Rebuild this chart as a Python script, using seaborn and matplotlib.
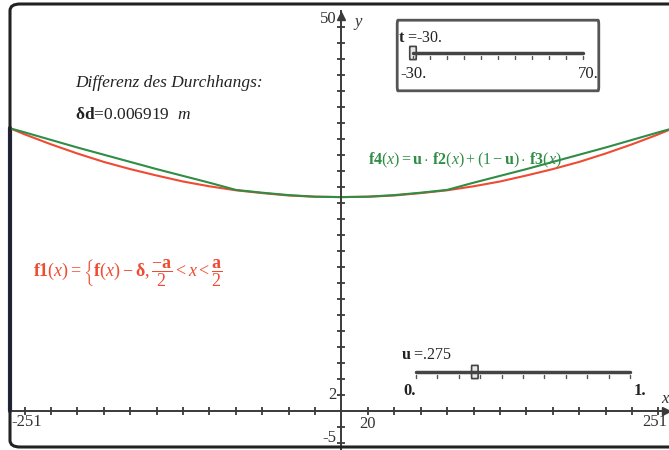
import numpy as np
import pandas as pd
import seaborn as sns
import matplotlib.pyplot as plt
from matplotlib.patches import FancyBboxPatch
from matplotlib.ticker import MultipleLocator

# Kurvenpunkte
x_pts = [-251, -240, -220, -200, -180, -160, -140, -120, -100, -80, -60, -40, -20, 0,
         20, 40, 60, 80, 100, 120, 140, 160, 180, 200, 220, 240, 251]
f1_vals = [35.3, 34.55, 33.3, 32.15, 31.1, 30.2, 29.4, 28.65, 28.05, 27.55, 27.2, 26.9, 26.75, 26.7,
           26.75, 26.9, 27.2, 27.55, 28.05, 28.65, 29.4, 30.2, 31.1, 32.15, 33.3, 34.55, 35.3]
f4_vals = [35.3, 34.8, 33.85, 32.9, 32.0, 31.1, 30.2, 29.35, 28.5, 27.6, 27.25, 26.95, 26.75, 26.7,
           26.75, 26.95, 27.25, 27.6, 28.5, 29.35, 30.2, 31.1, 32.0, 32.9, 33.85, 34.8, 35.3]
wall_x = [-251, -251]
wall_y = [0, 35.3]

x_range = [-251, 251]
y_range = [-5, 50]
x_step = 20
y_step = 2
x_labels = [-251, 20, 251]
y_labels = [50, 2, -5]

t_value, t_min, t_max = -30, -30, 70
u_value, u_min, u_max = 0.275, 0, 1

RED = '#ef4b33'
GREEN = '#2f8d45'
AXC = '#3a3a3a'

sns.set_style('white')
plt.rcParams['font.family'] = ['Liberation Serif', 'DejaVu Serif']
plt.rcParams['mathtext.fontset'] = 'custom'
plt.rcParams['mathtext.rm'] = 'Liberation Serif'
plt.rcParams['mathtext.it'] = 'Liberation Serif:italic'
plt.rcParams['mathtext.bf'] = 'Liberation Serif:bold'

W, H = 669, 450
fig = plt.figure(figsize=(W / 100, H / 100), dpi=100)
ax = fig.add_axes([10 / W, -0.7 / H, 663 / W, 440 / H])
ax.set_xlim(*x_range)
ax.set_ylim(*y_range)

# pixel -> Daten (nur fuer Beschriftungen)
def dx(px):
    return x_range[0] + (px - 10) * (x_range[1] - x_range[0]) / 663

def dy(py):
    return y_range[1] - (py - 10.7) * (y_range[1] - y_range[0]) / 440

# Achsen
for s in ['top', 'right']:
    ax.spines[s].set_visible(False)
ax.spines['left'].set_position(('data', 0))
ax.spines['bottom'].set_position(('data', 0))
for s in ['left', 'bottom']:
    ax.spines[s].set_color(AXC)
    ax.spines[s].set_linewidth(1.4)
ax.set_xticks([v for v in np.arange(-240, 241, x_step) if v != 0])
ax.set_yticks([v for v in np.arange(-4, 49, y_step) if v != 0])
ax.tick_params(bottom=True, left=True, direction='inout', length=6, width=1.3,
               color=AXC, labelbottom=False, labelleft=False)
ax.plot(0, y_range[1] - 0.6, marker='^', color=AXC, ms=6, clip_on=False)
ax.plot(x_range[1] - 5, 0, marker='>', color=AXC, ms=6, clip_on=False)
ax.text(10, 48.6, 'y', style='italic', fontsize=12, color='#333333', va='center')
ax.text(x_range[1] - 6, 1.5, 'x', style='italic', fontsize=12, color='#333333',
        ha='center', va='center')

lab = dict(fontsize=12, color='#333333')
ax.text(-4, y_labels[0] - 1.0, str(y_labels[0]), ha='right', va='center', **lab)
ax.text(-4, y_labels[1], str(y_labels[1]), ha='right', va='center', **lab)
ax.text(-4, y_labels[2] + 1.6, str(y_labels[2]), ha='right', va='center', **lab)
ax.text(x_labels[0] + 1, -1.4, str(x_labels[0]), ha='left', va='center', **lab)
ax.text(x_labels[1], -1.6, str(x_labels[1]), ha='center', va='center', **lab)
ax.text(x_labels[2] - 4, -1.4, str(x_labels[2]), ha='right', va='center', **lab)

# Kurven
ax.plot(wall_x, wall_y, color='#1c2a6b', lw=3, clip_on=False)
sns.lineplot(x=x_pts, y=f1_vals, color=RED, lw=1.5, sort=False, ax=ax)
sns.lineplot(x=x_pts, y=f4_vals, color=GREEN, lw=1.5, sort=False, ax=ax)

# Texte
ax.text(dx(75), dy(83), 'Differenz des Durchhangs:', style='italic',
        fontsize=12.5, color='#222222', va='center')
ax.text(dx(75), dy(115), r'$\mathbf{\delta d}$=0.006919  $m$',
        fontsize=12.5, color='#222222', va='center')
ax.text(dx(33), dy(273),
        r'$\mathbf{f1}(x)=\left\{\mathbf{f}(x)-\mathbf{\delta},\dfrac{-\mathbf{a}}{2}<x<\dfrac{\mathbf{a}}{2}\right.$',
        fontsize=13, color=RED, va='center')
ax.text(dx(368), dy(160),
        r'$\mathbf{f4}(x)=\mathbf{u}\cdot\,\mathbf{f2}(x)+(1-\mathbf{u})\cdot\,\mathbf{f3}(x)$',
        fontsize=11.5, color=GREEN, va='center')

# Schieberegler
def slider(x0, x1, y, val, vmin, vmax, name, vtxt, lo_txt, hi_txt, ty, ly, bold_lim):
    ax.plot([dx(x0), dx(x1)], [dy(y), dy(y)], color='#444444', lw=2.5)
    for k in range(11):
        xp = x0 + (x1 - x0) * k / 10
        ax.plot([dx(xp), dx(xp)], [dy(y + 3), dy(y + 6)], color='#555555', lw=1)
    hp = x0 + (x1 - x0) * (val - vmin) / (vmax - vmin)
    ax.add_patch(FancyBboxPatch((dx(hp - 3), dy(y + 5)), dx(hp + 3) - dx(hp - 3),
                                dy(y - 5) - dy(y + 5),
                                boxstyle='round,pad=0.2', fc='#e8e8e8', ec='#444444', lw=1.2))
    ax.text(dx(x0 - 15), dy(ty), r'$\mathbf{' + name + r'}$ =' + vtxt,
            fontsize=11.5, color='#222222', va='center')
    fw = 'bold' if bold_lim else 'normal'
    ax.text(dx(x0 - 13), dy(ly), lo_txt, fontsize=12, color='#222222', va='center',
            fontweight=fw)
    ax.text(dx(x1 + 16), dy(ly), hi_txt, fontsize=12, color='#222222', va='center',
            ha='right', fontweight=fw)

ax.add_patch(FancyBboxPatch((dx(398), dy(86)), dx(598) - dx(398), dy(25) - dy(86),
                            boxstyle='round,pad=0.6', fc='white', ec='#555555', lw=2))
slider(413, 583, 53, t_value, t_min, t_max, 't', '-30.', '-30.', '70.', 38, 74, False)
slider(416, 630, 372, u_value, u_min, u_max, 'u', '.275', '0.', '1.', 355, 391, True)

# Rahmen
fig.patches.append(FancyBboxPatch((10 / W, 3 / H), 680 / W, 443 / H,
                                  boxstyle='round,pad=0,rounding_size=0.015',
                                  transform=fig.transFigure, fill=False,
                                  ec='#222222', lw=2.2))

fig.savefig('out.png', dpi=100)
